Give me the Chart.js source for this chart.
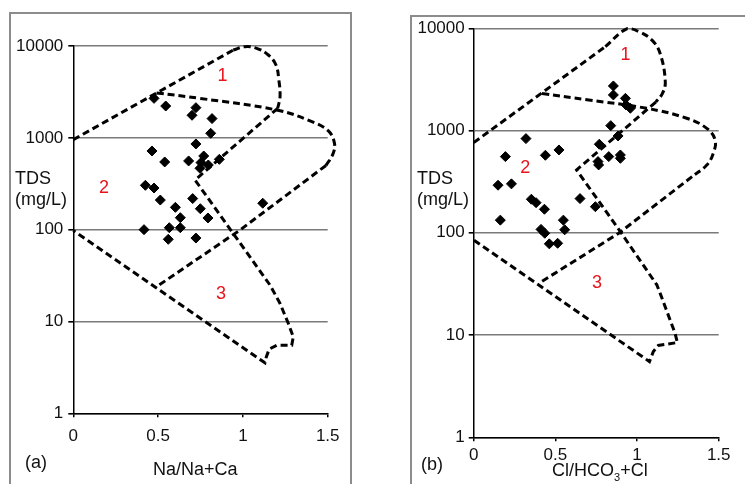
<!DOCTYPE html>
<html lang="en">
<head>
<meta charset="UTF-8" />
<title>Gibbs diagrams</title>
<script src="https://cdn.jsdelivr.net/npm/chart.js"></script>
<style>
    body {
        margin: 0;
        background: #fff;
        font-family: "Liberation Sans", Arial, sans-serif;
    }

    #wrap {
        position: relative;
        width: 745px;
        height: 484px;
        overflow: hidden;
        background: #fff;
    }

    canvas {
        position: absolute;
        top: 0;
    }

    .frame {
        position: absolute;
        border: 2px solid #8c8c8c;
    }

    .lbl {
        position: absolute;
        font-size: 18px;
        line-height: 21px;
        color: #111;
        white-space: nowrap;
    }

    .lbl sub {
        font-size: 11px;
        vertical-align: -5px;
        line-height: 0;
    }
</style>
</head>
<body>
<div id="wrap">
    <div class="frame" style="left:9px;top:12px;width:339px;height:500px;"></div>
    <div class="frame" style="left:410px;top:15px;width:400px;height:500px;"></div>

    <canvas id="chartA" width="372" height="484" style="left:0;width:372px;height:484px;"></canvas>
    <canvas id="chartB" width="373" height="484" style="left:372px;width:373px;height:484px;"></canvas>

    <!-- panel (a) labels -->
    <div class="lbl" style="left:15px;top:168px;">TDS<br>(mg/L)</div>
    <div class="lbl" style="left:25px;top:452px;">(a)</div>
    <div class="lbl" style="left:153px;top:459px;">Na/Na+Ca</div>

    <!-- panel (b) labels -->
    <div class="lbl" style="left:417px;top:168px;">TDS<br>(mg/L)</div>
    <div class="lbl" style="left:421px;top:454px;">(b)</div>
    <div class="lbl" style="left:552px;top:460px;">Cl/HCO<sub>3</sub>+Cl</div>
</div>

<script>
    // axis ticks
    const xTicks = [0, 0.5, 1, 1.5];
    const yTicks = [1, 10, 100, 1000, 10000];

    // panel (a): Na/(Na+Ca) vs TDS
    const naRatio = [0.476, 0.545, 0.723, 0.700, 0.818, 0.810, 0.723, 0.464, 0.539, 0.680,
        0.769, 0.753, 0.747, 0.796, 0.861, 0.425, 0.476, 0.513, 0.602, 0.704,
        0.749, 0.794, 0.631, 0.631, 0.566, 0.417, 0.560, 0.723, 1.117];
    const tdsA = [2690, 2220, 2130, 1760, 1620, 1120, 857, 719, 546, 560,
        634, 537, 466, 506, 583, 304, 284, 210, 175, 218,
        169, 134, 135, 105, 105, 100, 78.5, 81, 194];

    // panel (b): Cl/(HCO3+Cl) vs TDS
    const clRatio = [0.855, 0.855, 0.929, 0.933, 0.959, 0.839, 0.884, 0.320, 0.769, 0.194,
        0.439, 0.522, 0.827, 0.898, 0.898, 0.761, 0.765, 0.149, 0.231, 0.353,
        0.382, 0.651, 0.745, 0.433, 0.163, 0.549, 0.557, 0.412, 0.435, 0.463, 0.514];
    const tdsB = [2730, 2230, 2065, 1778, 1652, 1117, 885, 834, 735, 556,
        573, 646, 556, 577, 535, 497, 461, 292, 301, 213,
        197, 216, 180, 170, 133, 133, 107, 108, 99, 78, 79];

    // Gibbs boundary lines, panel (a)
    const aOuterLine = [[0, 955], [0.943, 9040]];
    const aOuterArc = [[0.943, 9040], [1.012, 9840], [1.081, 9440], [1.150, 7980], [1.195, 6210],
        [1.212, 4270], [1.219, 2805], [1.205, 2094]];
    const aInnerDrop = [[1.205, 2094], [0.718, 347], [1.160, 24.9], [1.219, 15.7], [1.268, 9.5],
        [1.297, 6.8], [1.288, 5.5], [1.199, 5.5], [1.155, 5.0], [1.138, 4.1], [1.130, 3.55], [0, 98]];
    const aMidArc = [[0.491, 3080], [0.747, 2690], [1.199, 2010], [1.396, 1530], [1.504, 1190],
        [1.540, 870], [1.530, 660], [1.490, 500]];
    const aMidLine = [[1.490, 500], [0.983, 99], [0.491, 23.9]];

    // Gibbs boundary lines, panel (b)
    const bOuterLine = [[0, 762], [0.806, 6620]];
    const bOuterArc = [[0.806, 6620], [0.940, 9950], [1.010, 9300], [1.090, 7700], [1.141, 5700],
        [1.173, 3000], [1.155, 2300], [1.115, 1900]];
    const bInnerDrop = [[1.115, 1900], [0.630, 412], [0.897, 103], [1.121, 31], [1.141, 25.7],
        [1.233, 10.4], [1.247, 8.45], [1.130, 7.9], [1.100, 6.9], [1.076, 5.5], [0, 85]];
    const bMidArc = [[0.418, 2300], [0.704, 1990], [1.059, 1650], [1.304, 1320], [1.427, 1050],
        [1.478, 810], [1.467, 600], [1.427, 460], [1.337, 354]];
    const bMidLine = [[1.337, 354], [0.888, 99], [0.406, 32.6]];

    // region numbers
    const regionNames = ['1', '2', '3'];
    const aRegionX = [0.880, 0.181, 0.871];
    const aRegionY = [4710, 282, 19.9];
    const bRegionX = [0.929, 0.316, 0.755];
    const bRegionY = [5480, 434, 32];

    const FONT = '"Liberation Sans", Arial, sans-serif';

    const regionLabels = {
        id: 'regionLabels',
        afterDatasetsDraw(chart, args, opts) {
            const { ctx, scales } = chart;
            ctx.save();
            ctx.fillStyle = '#e8141c';
            ctx.font = '18px ' + FONT;
            ctx.textAlign = 'center';
            ctx.textBaseline = 'middle';
            opts.names.forEach((t, i) => {
                ctx.fillText(t, scales.x.getPixelForValue(opts.xs[i]), scales.y.getPixelForValue(opts.ys[i]));
            });
            ctx.restore();
        }
    };

    function toPoints(pairs) {
        return pairs.map(p => ({ x: p[0], y: p[1] }));
    }

    function boundary(pairs, tension) {
        return {
            data: toPoints(pairs),
            showLine: true,
            borderColor: '#000',
            borderWidth: 3,
            borderDash: [7, 4],
            pointRadius: 0,
            tension: tension,
            fill: false,
            clip: false
        };
    }

    function makePanel(id, xs, ys, lines, labels, box) {
        const points = xs.map((x, i) => ({ x: x, y: ys[i] }));
        const datasets = lines.map(l => boundary(l[0], l[1]));
        datasets.push({
            data: points,
            pointStyle: 'rectRot',
            pointRadius: 5,
            pointHoverRadius: 5,
            backgroundColor: '#000',
            borderColor: '#000',
            borderWidth: 1
        });

        return new Chart(document.getElementById(id), {
            type: 'scatter',
            data: { datasets: datasets },
            options: {
                responsive: false,
                animation: false,
                events: [],
                layout: { padding: { left: 0, top: box.top, right: box.right, bottom: 0 } },
                plugins: {
                    legend: { display: false },
                    tooltip: { enabled: false },
                    regionLabels: labels
                },
                scales: {
                    x: {
                        type: 'linear',
                        min: 0,
                        max: 1.5,
                        afterBuildTicks: s => { s.ticks = xTicks.map(v => ({ value: v })); },
                        afterFit: s => { s.height = box.xHeight; },
                        grid: { drawOnChartArea: false, drawTicks: true, tickLength: 4, tickColor: '#000', lineWidth: 1.5 },
                        border: { color: '#000', width: 1.5 },
                        ticks: {
                            color: '#111',
                            font: { family: FONT, size: 17 },
                            padding: box.xPad,
                            maxRotation: 0,
                            callback: v => String(v)
                        }
                    },
                    y: {
                        type: 'logarithmic',
                        min: 1,
                        max: 10000,
                        afterBuildTicks: s => { s.ticks = yTicks.map(v => ({ value: v })); },
                        afterFit: s => { s.width = box.yWidth; },
                        grid: { color: '#7a7a7a', lineWidth: 1.6, tickLength: 5, tickColor: '#000' },
                        border: { color: '#000', width: 1.5 },
                        ticks: {
                            color: '#111',
                            font: { family: FONT, size: 17 },
                            padding: box.tickPad,
                            callback: v => String(v)
                        }
                    }
                }
            },
            plugins: [regionLabels]
        });
    }

    makePanel('chartA', naRatio, tdsA,
        [[aOuterLine, 0], [aOuterArc, 0.4], [aInnerDrop, 0], [aMidArc, 0.4], [aMidLine, 0]],
        { names: regionNames, xs: aRegionX, ys: aRegionY },
        { top: 46, right: 44.3, xHeight: 70.7, yWidth: 73.3, tickPad: 5, xPad: 9 });

    makePanel('chartB', clRatio, tdsB,
        [[bOuterLine, 0], [bOuterArc, 0.4], [bInnerDrop, 0], [bMidArc, 0.4], [bMidLine, 0]],
        { names: regionNames, xs: bRegionX, ys: bRegionY },
        { top: 28.3, right: 26.3, xHeight: 46.7, yWidth: 101.7, tickPad: 4, xPad: 4 });
</script>
</body>
</html>
